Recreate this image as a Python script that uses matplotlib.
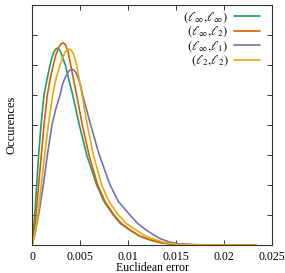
import matplotlib
matplotlib.use("Agg")
import matplotlib.pyplot as plt
import numpy as np

plt.rcParams['font.family'] = ['Liberation Serif', 'DejaVu Serif']
plt.rcParams['mathtext.fontset'] = 'stix'

labels = [r'$(\ell_\infty,\!\ell_\infty)$', r'$(\ell_\infty,\!\ell_2)$',
          r'$(\ell_\infty,\!\ell_1)$', r'$(\ell_2,\!\ell_2)$']
colors = ['#1b9e77', '#d95f02', '#7570b3', '#e6ab02']

# x values in units of 1e-3 (Euclidean error), y in occurrence units
green_x = [0, 0.12, 0.28, 0.49, 0.69, 0.94, 1.25, 1.55, 1.88, 2.0, 2.24, 2.44, 2.64, 2.84, 3.04, 3.24, 3.47, 3.85, 4.24, 4.93, 5.7, 6.74, 7.5, 8.47, 9.2, 10.2, 11.2, 12.3, 13.5, 15.0, 17.0, 23.3]
green_y = [0, 0.35, 1.0, 2.0, 3.0, 4.0, 5.0, 5.5, 6.0, 6.16, 6.4, 6.52, 6.56, 6.52, 6.4, 6.2, 6.0, 5.5, 5.0, 4.0, 3.0, 2.0, 1.45, 1.0, 0.72, 0.5, 0.3, 0.17, 0.07, 0.02, 0.005, 0]

orange_x = [0, 0.18, 0.42, 0.69, 0.97, 1.25, 1.6, 1.9, 2.22, 2.5, 2.8, 3.05, 3.26, 3.5, 3.75, 4.03, 4.65, 5.24, 5.94, 6.84, 7.6, 8.54, 9.3, 10.2, 11.2, 12.3, 13.5, 15.0, 17.0, 23.3]
orange_y = [0, 0.3, 1.0, 2.0, 3.0, 4.0, 5.0, 5.55, 6.0, 6.35, 6.6, 6.71, 6.74, 6.67, 6.44, 6.0, 5.0, 4.0, 3.0, 2.0, 1.45, 1.0, 0.72, 0.5, 0.3, 0.17, 0.07, 0.02, 0.005, 0]

purple_x = [0, 0.3, 0.69, 1.18, 1.6, 2.08, 2.45, 2.92, 3.2, 3.5, 3.8, 4.0, 4.17, 4.4, 4.6, 4.8, 5.05, 5.28, 6.11, 7.01, 8.13, 9.0, 10.2, 11.0, 11.9, 12.6, 13.3, 14.3, 15.3, 17.0, 20.0, 23.3]
purple_y = [0, 0.35, 1.0, 2.0, 3.0, 4.0, 4.5, 5.0, 5.38, 5.61, 5.78, 5.84, 5.86, 5.82, 5.73, 5.58, 5.33, 5.0, 4.0, 3.0, 2.0, 1.45, 1.0, 0.72, 0.5, 0.35, 0.22, 0.1, 0.04, 0.01, 0.002, 0]

yellow_x = [0, 0.3, 0.63, 0.97, 1.32, 1.7, 2.15, 2.5, 2.92, 3.2, 3.45, 3.65, 3.89, 4.1, 4.3, 4.5, 4.65, 5.21, 5.76, 6.39, 7.26, 8.0, 9.0, 9.8, 10.83, 11.8, 12.9, 13.8, 15.2, 17.0, 23.3]
yellow_y = [0, 0.4, 1.0, 2.0, 3.0, 4.0, 5.0, 5.55, 6.0, 6.26, 6.42, 6.5, 6.53, 6.49, 6.38, 6.19, 6.0, 5.0, 4.0, 3.0, 2.0, 1.45, 1.0, 0.72, 0.5, 0.3, 0.17, 0.08, 0.02, 0.005, 0]

series_x = [green_x, orange_x, purple_x, yellow_x]
series_y = [green_y, orange_y, purple_y, yellow_y]

x_ticks = [0, 0.005, 0.01, 0.015, 0.02, 0.025]
x_tick_labels = ['0', '0.005', '0.01', '0.015', '0.02', '0.025']

fig = plt.figure(figsize=(2.85, 2.73), dpi=100)
ax = fig.add_axes([32/285, 28/273, 240/285, 240/273])

for xs, ys, c, lab in zip(series_x, series_y, colors, labels):
    ax.plot(np.array(xs) * 1e-3, ys, color=c, lw=1.2, label=lab,
            solid_joinstyle='round', solid_capstyle='round')

ax.set_xlim(0, 0.025)
ax.set_ylim(0, 8)
ax.set_xticks(x_ticks)
ax.set_xticklabels(x_tick_labels, fontsize=8.5)
ax.set_yticks(range(0, 9))
ax.set_yticklabels([])
ax.tick_params(direction='in', length=3.5, width=0.7, top=True, right=True,
               pad=4.5, colors='#333333', labelcolor='black')
for s in ax.spines.values():
    s.set_linewidth(0.8)
    s.set_color('#333333')

ax.set_xlabel('Euclidean error', fontsize=8.5, labelpad=-1)
ax.set_ylabel('Occurences', fontsize=9, labelpad=6)

leg = ax.legend(loc='upper right', frameon=False, markerfirst=False,
                fontsize=9, handlelength=2.1, handletextpad=0.4,
                labelspacing=0.0, borderaxespad=0.0,
                bbox_to_anchor=(0.97, 1.0))
for t in leg.get_texts():
    t.set_ha('right')

fig.savefig('out.png', dpi=100)
